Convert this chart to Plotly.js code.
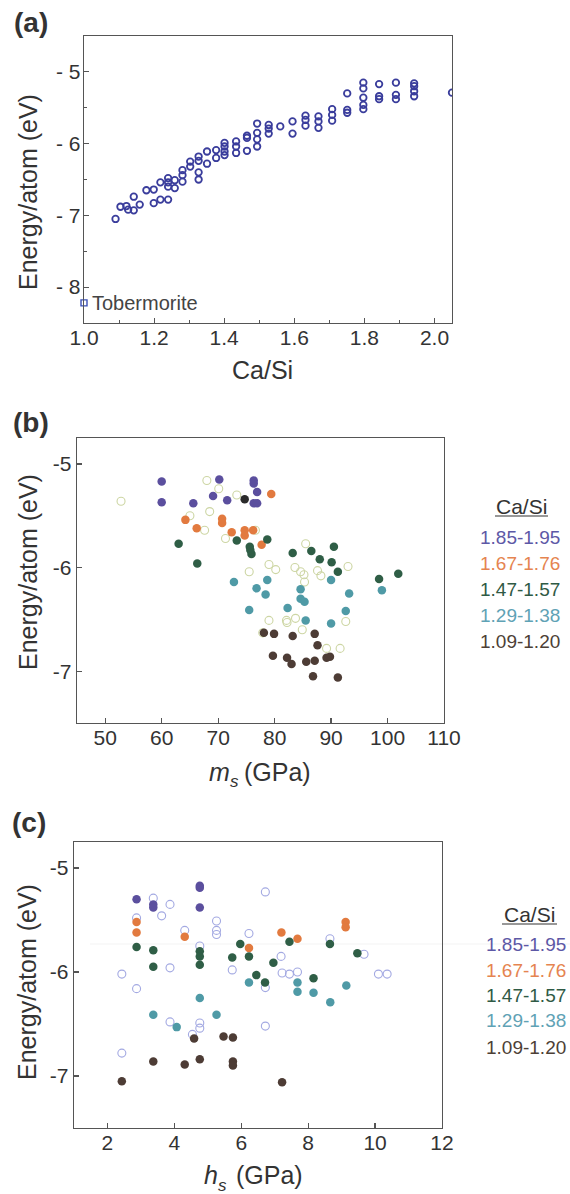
<!DOCTYPE html>
<html>
<head>
<meta charset="utf-8">
<script src="https://cdn.plot.ly/plotly-3.0.1.min.js"></script>
<style>
html,body{margin:0;padding:0;background:#fff;}
#chart{width:570px;height:1194px;}
</style>
</head>
<body>
<div id="chart"></div>
<script>
// ---------- Panel (a): Energy/atom vs Ca/Si ----------
var a_casi = [1.090,1.104,1.121,1.126,1.142,1.142,1.159,1.178,1.199,1.199,1.218,1.218,1.240,1.240,1.240,1.240,1.259,1.259,1.281,1.281,1.281,1.303,1.303,1.327,1.327,1.327,1.327,1.351,1.351,1.377,1.377,1.401,1.401,1.401,1.401,1.434,1.434,1.434,1.465,1.465,1.465,1.494,1.494,1.494,1.494,1.527,1.527,1.527,1.560,1.595,1.595,1.632,1.632,1.632,1.669,1.669,1.669,1.708,1.708,1.708,1.751,1.751,1.751,1.797,1.797,1.797,1.797,1.797,1.842,1.842,1.842,1.890,1.890,1.890,1.942,1.942,1.942,1.942,2.050];
var a_energy = [-7.05,-6.88,-6.87,-6.92,-6.74,-6.93,-6.85,-6.65,-6.64,-6.83,-6.54,-6.78,-6.48,-6.54,-6.60,-6.78,-6.51,-6.62,-6.37,-6.44,-6.53,-6.25,-6.32,-6.18,-6.24,-6.40,-6.50,-6.11,-6.28,-6.09,-6.20,-5.99,-6.04,-6.11,-6.16,-5.97,-6.04,-6.13,-5.89,-5.92,-6.10,-5.72,-5.85,-5.94,-6.04,-5.74,-5.79,-5.86,-5.76,-5.69,-5.86,-5.61,-5.67,-5.75,-5.62,-5.69,-5.78,-5.52,-5.60,-5.68,-5.30,-5.53,-5.57,-5.15,-5.23,-5.36,-5.46,-5.52,-5.17,-5.34,-5.38,-5.15,-5.32,-5.38,-5.16,-5.20,-5.27,-5.34,-5.29];
var tob_casi = [1.0];
var tob_energy = [-8.22];
var a_xticks = [1.0,1.2,1.4,1.6,1.8,2.0];
var a_yticks = [-5,-6,-7,-8];
var a_yticktext = ['- 5','- 6','- 7','- 8'];

// ---------- Groups (Ca/Si ranges) ----------
var groupNames = ['1.85-1.95','1.67-1.76','1.47-1.57','1.29-1.38','1.09-1.20'];

// ---------- Panel (b): Energy/atom vs m_s ----------
var b_ms_185 = [60.0,60.0,65.6,69.1,70.2,71.6,76.3,76.3,76.9,76.3,76.9];
var b_e_185  = [-5.17,-5.37,-5.38,-5.31,-5.15,-5.35,-5.16,-5.19,-5.27,-5.38,-5.38];
var b_ms_167 = [79.4,64.2,66.2,70.7,70.7,72.4,74.7,74.7,76.2,77.7];
var b_e_167  = [-5.29,-5.54,-5.62,-5.53,-5.57,-5.66,-5.64,-5.69,-5.64,-5.78];
var b_ms_147 = [63.0,66.3,73.3,75.6,75.9,75.7,78.7,83.2,86.5,88.0,90.5,90.1,91.2,98.5,101.9];
var b_e_147  = [-5.77,-5.96,-5.74,-5.80,-5.87,-5.83,-5.73,-5.86,-5.84,-5.92,-5.80,-5.95,-6.04,-6.11,-6.06];
var b_ms_129 = [72.8,76.8,78.7,78.4,75.5,82.3,84.6,84.6,85.3,85.5,90.0,90.0,92.6,93.2,99.0];
var b_e_129  = [-6.14,-6.20,-6.12,-6.26,-6.41,-6.39,-6.21,-6.30,-6.33,-6.51,-6.12,-6.54,-6.42,-6.25,-6.22];
var b_ms_109 = [78.1,79.9,79.7,82.2,83.0,83.2,87.1,87.6,85.6,87.1,89.2,89.8,86.8,91.2];
var b_e_109  = [-6.63,-6.64,-6.85,-6.87,-6.93,-6.66,-6.64,-6.75,-6.91,-6.90,-6.87,-6.86,-7.05,-7.06];
var b_ms_black = [74.7];
var b_e_black  = [-5.34];
var b_ms_open = [52.8,68.0,70.1,73.3,68.5,65.0,67.6,71.3,76.6,79.0,80.2,75.5,79.0,82.2,77.9,85.5,83.6,84.6,85.2,85.3,87.6,88.2,93.0,82.1,83.7,84.9,92.6,89.2,91.6];
var b_e_open  = [-5.36,-5.16,-5.24,-5.30,-5.46,-5.50,-5.64,-5.72,-5.64,-5.97,-6.02,-6.04,-6.51,-6.53,-6.63,-5.77,-6.00,-6.04,-6.07,-6.14,-6.03,-6.08,-5.99,-6.51,-6.49,-6.60,-6.52,-6.78,-6.78];
var b_xticks = [50,60,70,80,90,100,110];

// ---------- Panel (c): Energy/atom vs h_s ----------
var c_hs_185 = [2.87,3.37,3.37,4.76,4.76,4.76];
var c_e_185  = [-5.30,-5.35,-5.38,-5.17,-5.19,-5.38];
var c_hs_167 = [2.87,2.87,4.31,6.23,7.20,7.68,9.12,9.12];
var c_e_167  = [-5.52,-5.62,-5.66,-5.77,-5.62,-5.68,-5.52,-5.57];
var c_hs_147 = [2.87,3.37,3.37,4.76,4.76,4.76,5.73,5.97,6.23,6.45,6.71,6.96,7.44,8.65,9.47,8.16];
var c_e_147  = [-5.76,-5.79,-5.95,-5.80,-5.85,-5.93,-5.86,-5.73,-5.85,-6.03,-6.10,-5.91,-5.71,-5.73,-5.82,-6.06];
var c_hs_129 = [3.37,4.07,4.76,5.26,6.23,7.68,7.68,8.16,8.66,9.14];
var c_e_129  = [-6.41,-6.53,-6.25,-6.41,-6.10,-6.10,-6.19,-6.20,-6.29,-6.13];
var c_hs_109 = [2.43,3.37,4.31,4.59,4.76,5.47,5.75,5.75,5.75,7.22];
var c_e_109  = [-7.05,-6.86,-6.89,-6.64,-6.84,-6.62,-6.63,-6.86,-6.90,-7.06];
var c_hs_open = [2.43,2.87,2.87,3.37,3.62,3.87,3.87,3.87,4.31,4.76,4.76,4.76,4.54,5.26,5.26,5.26,5.73,6.23,6.72,6.72,6.72,7.19,7.22,7.44,7.68,8.65,9.67,10.10,10.36,2.43];
var c_e_open  = [-6.02,-5.48,-6.16,-5.29,-5.46,-5.35,-5.96,-6.48,-5.60,-5.75,-6.49,-6.54,-6.60,-5.51,-5.60,-5.64,-5.98,-5.63,-5.23,-6.15,-6.52,-5.85,-6.01,-6.02,-6.00,-5.68,-5.83,-6.02,-6.02,-6.78];
var c_xticks = [2,4,6,8,10,12];
var bc_yticks = [-5,-6,-7];
var bc_yticktext = ['-5','-6','-7'];

// ---------- Styling ----------
var W = 570, H = 1194;
function X(px){ return px / W; }
function Y(px){ return 1 - px / H; }
var FONT = 'Liberation Sans, Arial, Helvetica, sans-serif';
var groupColors = ['#5b4f9e','#e27a3f','#2f5e46','#4f9aa6','#4d3c35'];
var legendColors = ['#5d58a6','#e58450','#2f5a45','#5fa2b5','#4d3f36'];
var frameColor = '#555555';
var tickFont = {family: FONT, size: 21, color: '#333333'};

function filled(x, y, color, xa, ya){
  return {x: x, y: y, type: 'scatter', mode: 'markers', xaxis: xa, yaxis: ya,
    marker: {symbol: 'circle', size: 8.5, color: color, line: {width: 0}}, showlegend: false, hoverinfo: 'x+y'};
}
function openc(x, y, color, xa, ya){
  return {x: x, y: y, type: 'scatter', mode: 'markers', xaxis: xa, yaxis: ya,
    marker: {symbol: 'circle-open', size: 8, color: color, line: {width: 1.1, color: color}}, showlegend: false, hoverinfo: 'x+y'};
}

var traces = [
  {x: a_casi, y: a_energy, type: 'scatter', mode: 'markers', xaxis: 'x', yaxis: 'y',
   marker: {symbol: 'circle-open', size: 6.5, color: '#3a3d9c', line: {width: 1.8, color: '#3a3d9c'}}, showlegend: false},
  {x: tob_casi, y: tob_energy, type: 'scatter', mode: 'markers', xaxis: 'x', yaxis: 'y', cliponaxis: false,
   marker: {symbol: 'square-open', size: 6, color: '#3d52b8', line: {width: 1.4, color: '#3d52b8'}}, showlegend: false},

  openc(b_ms_open, b_e_open, '#cdd6a4', 'x2', 'y2'),
  filled(b_ms_185, b_e_185, groupColors[0], 'x2', 'y2'),
  filled(b_ms_167, b_e_167, groupColors[1], 'x2', 'y2'),
  filled(b_ms_147, b_e_147, groupColors[2], 'x2', 'y2'),
  filled(b_ms_129, b_e_129, groupColors[3], 'x2', 'y2'),
  filled(b_ms_109, b_e_109, groupColors[4], 'x2', 'y2'),
  filled(b_ms_black, b_e_black, '#2a2a2a', 'x2', 'y2'),

  openc(c_hs_open, c_e_open, '#a3a9e2', 'x3', 'y3'),
  filled(c_hs_185, c_e_185, groupColors[0], 'x3', 'y3'),
  filled(c_hs_167, c_e_167, groupColors[1], 'x3', 'y3'),
  filled(c_hs_147, c_e_147, groupColors[2], 'x3', 'y3'),
  filled(c_hs_129, c_e_129, groupColors[3], 'x3', 'y3'),
  filled(c_hs_109, c_e_109, groupColors[4], 'x3', 'y3')
];

function baseAxis(extra){
  var ax = {showline: true, mirror: true, linecolor: frameColor, linewidth: 1.3,
    showgrid: false, zeroline: false, ticks: 'inside', ticklen: 5, tickwidth: 1.2, tickcolor: frameColor,
    tickfont: tickFont, fixedrange: true};
  for (var k in extra) ax[k] = extra[k];
  return ax;
}

var layout = {
  width: W, height: H,
  margin: {l: 0, r: 0, t: 0, b: 0},
  paper_bgcolor: '#ffffff', plot_bgcolor: '#ffffff',
  showlegend: false,
  font: {family: FONT, color: '#333333'},
  xaxis: baseAxis({domain: [X(84), X(452)], range: [1.0, 2.05], anchor: 'y',
    tickmode: 'array', tickvals: a_xticks, tickformat: '.1f', ticklabelstandoff: -5,
    minor: {ticks: 'inside', ticklen: 3, dtick: 0.1, tick0: 1.0, tickcolor: frameColor, tickwidth: 1}}),
  yaxis: baseAxis({domain: [Y(323), Y(36)], range: [-8.5, -4.5], anchor: 'x',
    tickmode: 'array', tickvals: a_yticks, ticktext: a_yticktext, ticklabelstandoff: -2,
    minor: {ticks: 'inside', ticklen: 3, dtick: 0.5, tick0: -5, tickcolor: frameColor, tickwidth: 1}}),
  xaxis2: baseAxis({domain: [X(77), X(444)], range: [45, 110], anchor: 'y2',
    tickmode: 'array', tickvals: b_xticks, ticklabelstandoff: -5}),
  yaxis2: baseAxis({domain: [Y(723), Y(438)], range: [-7.5, -4.75], anchor: 'x2',
    tickmode: 'array', tickvals: bc_yticks, ticktext: bc_yticktext}),
  xaxis3: baseAxis({domain: [X(74), X(442)], range: [1, 12], anchor: 'y3',
    tickmode: 'array', tickvals: c_xticks, ticklabelstandoff: -5}),
  yaxis3: baseAxis({domain: [Y(1128), Y(842)], range: [-7.5, -4.75], anchor: 'x3',
    tickmode: 'array', tickvals: bc_yticks, ticktext: bc_yticktext}),
  shapes: [
    {type: 'line', xref: 'paper', yref: 'paper', x0: X(90), x1: 1, y0: Y(944), y1: Y(944),
     line: {color: 'rgba(0,0,0,0.05)', width: 1}, layer: 'below'},
    {type: 'line', xref: 'paper', yref: 'paper', x0: X(495), x1: X(548), y0: Y(516), y1: Y(516),
     line: {color: '#333333', width: 1.2}},
    {type: 'line', xref: 'paper', yref: 'paper', x0: X(502), x1: X(557), y0: Y(924), y1: Y(924),
     line: {color: '#333333', width: 1.2}}
  ],
  annotations: []
};

function ann(text, xpx, ypx, opts){
  var a = {text: text, x: X(xpx), y: Y(ypx), xref: 'paper', yref: 'paper', showarrow: false,
    xanchor: 'center', yanchor: 'middle', font: {family: FONT, size: 25, color: '#333333'}};
  for (var k in opts) a[k] = opts[k];
  layout.annotations.push(a);
}

// panel labels
ann('<b>(a)</b>', 31, 23, {font: {family: FONT, size: 28, color: '#333333'}});
ann('<b>(b)</b>', 31, 422, {font: {family: FONT, size: 28, color: '#333333'}});
ann('<b>(c)</b>', 29, 822, {font: {family: FONT, size: 28, color: '#333333'}});

// axis titles
ann('Energy/atom (eV)', 28, 192, {textangle: -90});
ann('Energy/atom (eV)', 28, 572, {textangle: -90});
ann('Energy/atom (eV)', 27, 982, {textangle: -90});
ann('Ca/Si', 262, 370, {});
// m_s (GPa)
ann('<i>m</i>', 232, 772, {xanchor: 'right'});
ann('<i>s</i>', 228, 781, {xanchor: 'left', font: {family: FONT, size: 17, color: '#333333'}});
ann('(GPa)', 242, 772, {xanchor: 'left'});
// h_s (GPa)
ann('<i>h</i>', 220, 1175, {xanchor: 'right'});
ann('<i>s</i>', 216, 1185, {xanchor: 'left', font: {family: FONT, size: 17, color: '#333333'}});
ann('(GPa)', 234, 1175, {xanchor: 'left'});

// Tobermorite label
ann('Tobermorite', 90, 303, {xanchor: 'left', font: {family: FONT, size: 20, color: '#444444'}});

// legends (b) and (c)
ann('Ca/Si', 521, 506, {font: {family: FONT, size: 21, color: '#333333'}});
var bLegY = [537, 563, 589, 615, 641];
for (var i = 0; i < groupNames.length; i++){
  ann(groupNames[i], 520, bLegY[i], {font: {family: FONT, size: 19, color: legendColors[i]}});
}
ann('Ca/Si', 529, 914, {font: {family: FONT, size: 21, color: '#333333'}});
var cLegY = [944, 970, 995, 1021, 1047];
for (var j = 0; j < groupNames.length; j++){
  ann(groupNames[j], 484, cLegY[j], {xanchor: 'left', font: {family: FONT, size: 19, color: legendColors[j]}});
}

Plotly.newPlot('chart', traces, layout, {staticPlot: true, displayModeBar: false});
</script>
</body>
</html>
